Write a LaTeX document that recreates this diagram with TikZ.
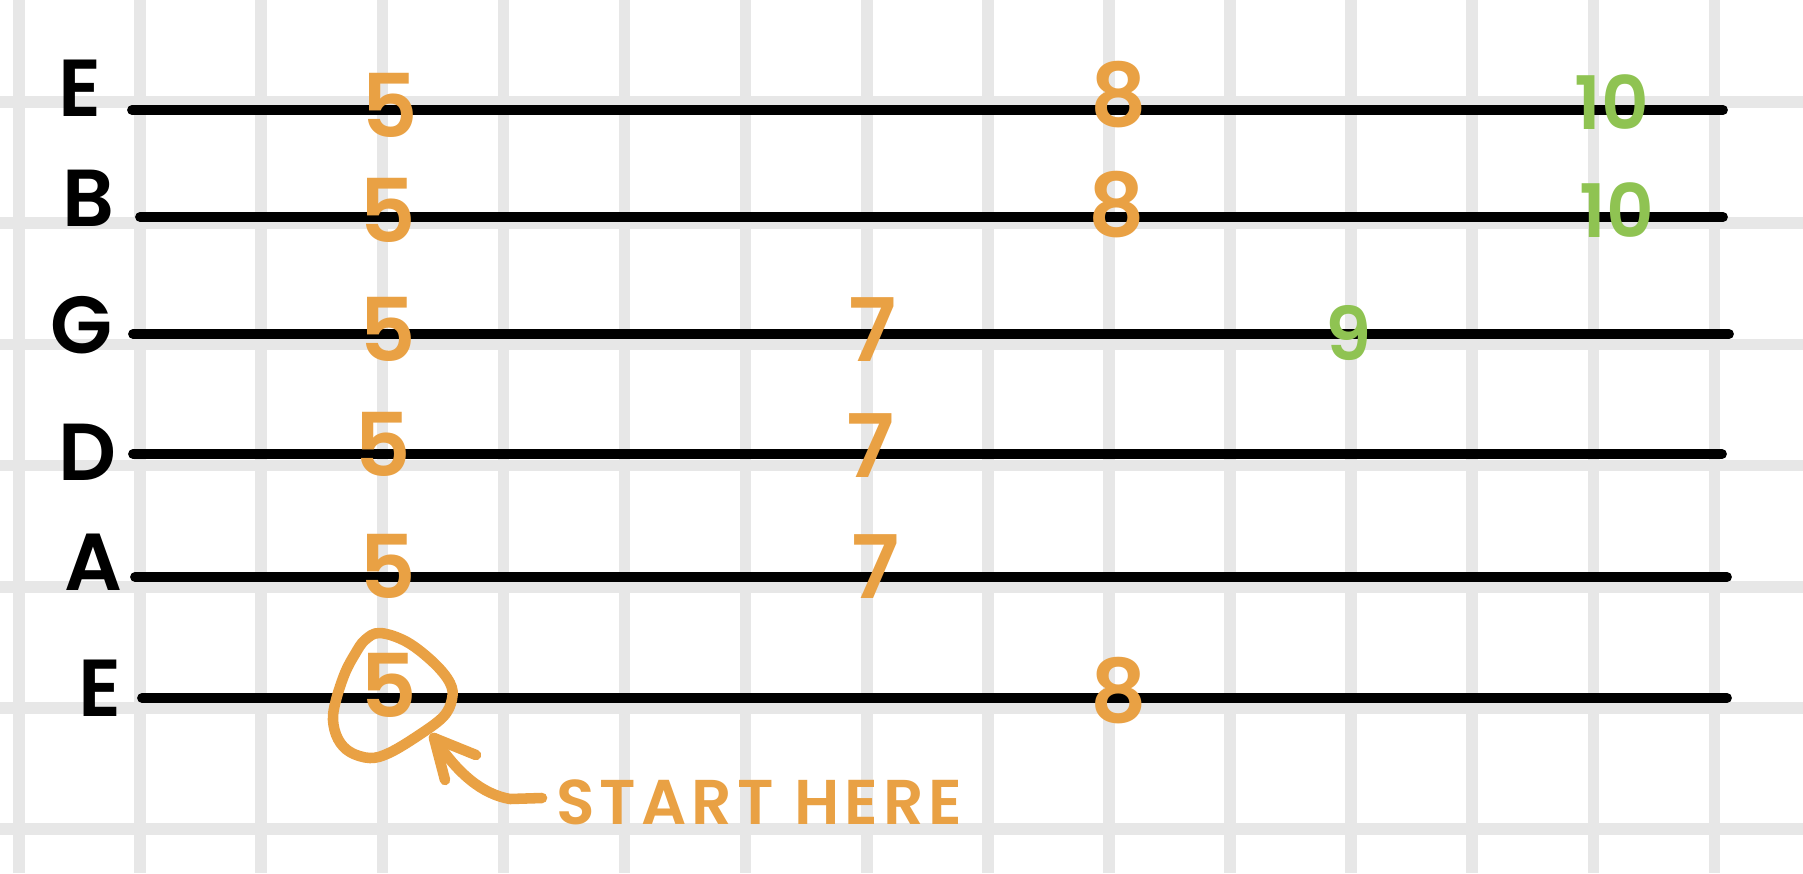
\documentclass[tikz,border=0pt]{standalone}
\usepackage{fontspec}
\setmainfont{Poppins}[UprightFont=* SemiBold]
\definecolor{tabor}{RGB}{233,161,68}
\definecolor{tabgr}{RGB}{143,195,82}
\definecolor{gridc}{RGB}{231,231,231}
\tikzset{
  gridline/.style={draw=gridc,line width=6.6pt},
  tabstring/.style={draw=black,line width=5.6pt,line cap=round},
  strname/.style={inner sep=0pt,font=\fontsize{46}{46}\selectfont,text=black},
  fret/.style={inner sep=0pt,font=\fontsize{50}{50}\selectfont,text=tabor},
  fretg/.style={inner sep=0pt,font=\fontsize{42}{42}\selectfont,text=tabgr},
  pen/.style={draw=tabor,line width=6pt,line cap=round,line join=round},
  note/.style={inner sep=0pt,font=\fontsize{36}{36}\selectfont\addfontfeatures{LetterSpace=8},text=tabor}
}
\begin{document}
\begin{tikzpicture}[x=0.02cm,y=-0.02cm]
\useasboundingbox (0,0) rectangle (1803,873);
\fill[white] (0,0) rectangle (1803,873);
% grid
\foreach \i in {0,...,14} \draw[gridline] ({19+121.1*\i},0) -- ({19+121.1*\i},873);
\foreach \j in {0,...,6} \draw[gridline] (0,{102+121.2*\j}) -- (1803,{102+121.2*\j});
% strings
\draw[tabstring] (132,110) -- (1723,110);
\draw[tabstring] (140,217) -- (1723,217);
\draw[tabstring] (133,334) -- (1729,334);
\draw[tabstring] (133,454) -- (1722,454);
\draw[tabstring] (135,577) -- (1727,577);
\draw[tabstring] (142,698) -- (1727,698);
% string names
\node[strname] (nE) at (80,88) {E};
\node[strname] (nB) at (88,198) {B};
\node[strname] (nG) at (82,325) {G};
\node[strname] (nD) at (87,452) {D};
\node[strname] (nA) at (93,562) {A};
\node[strname] (ne) at (100,688) {E};
% frets
\node[fret] (f1) at (390,105) {5};
\node[fret] (f2) at (388,210) {5};
\node[fret] (f3) at (388,329) {5};
\node[fret] (f4) at (383,444) {5};
\node[fret] (f5) at (388,566) {5};
\node[fret] (f6) at (389,685) {5};
\node[fret] (g1) at (1119,95) {8};
\node[fret] (g2) at (1117,205) {8};
\node[fret] (g6) at (1119,691) {8};
\node[fret] (h3) at (873,330) {7};
\node[fret] (h4) at (871,446) {7};
\node[fret] (h5) at (876,567) {7};
\node[fretg] (k3) at (1349,333) {9};
\node[fretg] (m1) at (1612,102) {10};
\node[fretg] (m2) at (1617,210) {10};
% circle round the start note
\draw[pen] plot[smooth cycle,tension=0.6] coordinates {(380,633) (407,642) (434,663) (450,683) (452,699) (443,717) (416,737) (389,753) (370,758) (350,752) (338,739) (333,720) (336,700) (345,673) (355,654) (365,640)};
% label and arrow
\node[note,anchor=west] (start) at (556,802) {START HERE};
\coordinate (tip) at (434,738);
\draw[pen] (start.west) ++(-14,-4) coordinate (tail) -- ++(-32,1) .. controls (482,794) and (458,774) .. (tip);
\draw[pen] (476,755) -- (tip) -- (445,780);
\end{tikzpicture}
\end{document}
